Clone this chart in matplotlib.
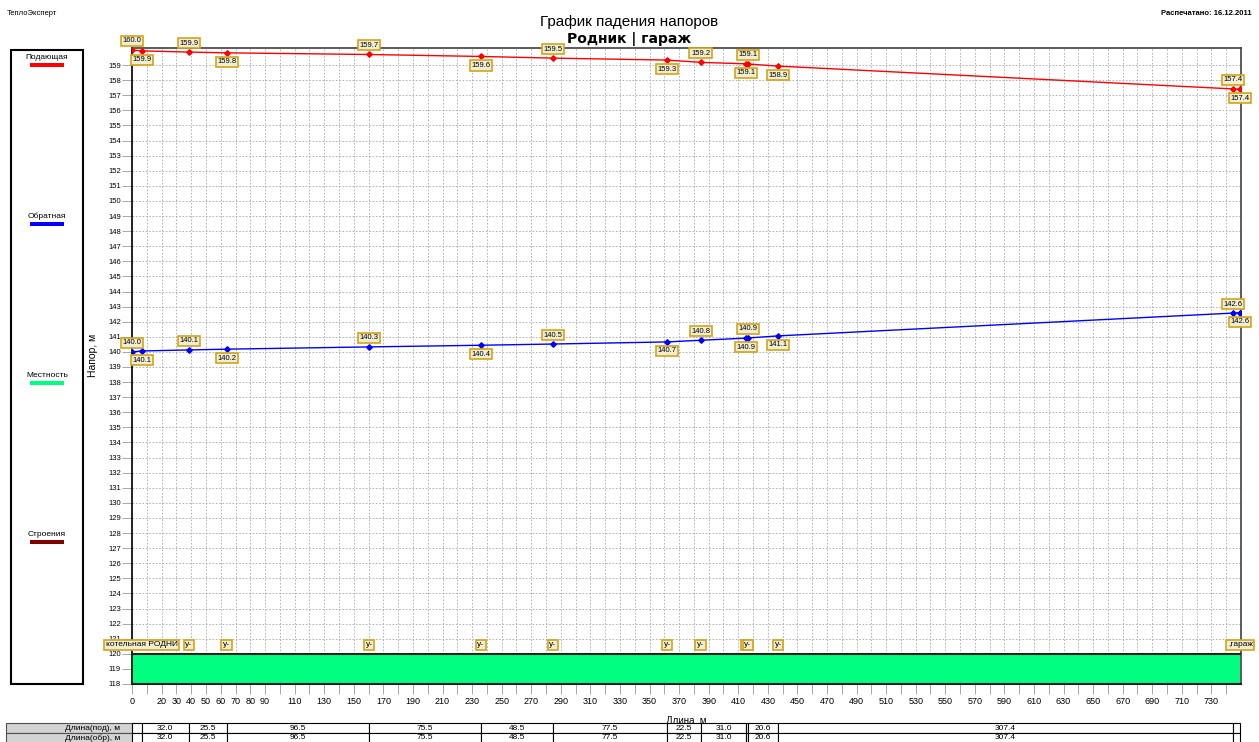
import numpy as np
import matplotlib
matplotlib.use('Agg')
import matplotlib.pyplot as plt
import matplotlib.transforms as mtransforms
from matplotlib.patches import Rectangle

plt.rcParams['font.family'] = ['Liberation Sans', 'DejaVu Sans']

W, H = 1259, 742

# длины участков, м (короткие вставки без подписи в таблице)
SEG_LEN = [6.5, 32.0, 25.5, 96.5, 75.5, 48.5, 77.5, 22.5, 31.0, 1.0, 20.6, 307.4, 5.0]
# напоры в узлах, м
SUPPLY = [160.00, 159.94, 159.86, 159.81, 159.70, 159.57, 159.46,
          159.33, 159.18, 159.08, 159.07, 158.93, 157.42, 157.40]
RETURN = [140.00, 140.06, 140.13, 140.18, 140.33, 140.44, 140.52,
          140.66, 140.77, 140.91, 140.92, 141.06, 142.57, 142.60]
GROUND = [120.0, 120.0, 120.0, 120.0, 120.0, 120.0, 120.0,
          120.0, 120.0, 120.0, 120.0, 120.0, 120.0, 120.0]
NODE_NAMES = ['', 'котельная РОДНИ', 'у-', 'у-', 'у-', 'у-', 'у-',
              'у-', 'у-', 'у-', 'у-', 'у-', '', ',гараж']

XTICK_LABELED = [0, 20, 30, 40, 50, 60, 70, 80, 90] + list(range(110, 731, 20))
TABLE_ROWS = ['Длина(под), м', 'Длина(обр), м']

LEGEND_NAMES = ['Подающая', 'Обратная', 'Местность', 'Строения']
LEGEND_COLORS = ['#ff0000', '#0000ff', '#00ff80', '#800000']

BOX = dict(boxstyle='square,pad=0.2', fc='#f0eed2', ec='#d4a418', lw=1.2)


def fx(px):
    return px / W


def fy(py):
    return 1 - py / H


x_nodes = np.concatenate([[0.0], np.cumsum(SEG_LEN)])

fig = plt.figure(figsize=(W / 100, H / 100), dpi=100)

ax = fig.add_axes([fx(132), fy(684), fx(1241) - fx(132), fy(48) - fy(684)])
ax.set_xlim(0, 750)
ax.set_ylim(118, 160.13)

xt = np.arange(0, 741, 10)
ax.set_xticks(xt)
ax.set_xticklabels([str(t) if t in XTICK_LABELED else '' for t in xt])
ax.set_yticks(np.arange(118, 160))
ax.tick_params(axis='x', length=7, width=0.6, color='#9a9a9a', labelsize=6.5, pad=2)
ax.tick_params(axis='y', length=7.5, width=0.6, color='#9a9a9a', labelsize=5.5, pad=0.5)
ax.grid(True, color='#a8a8a8', lw=0.6, ls=(0, (2, 2)))
ax.set_axisbelow(True)

ax.spines['left'].set_color('black')
ax.spines['left'].set_linewidth(1.2)
for s in ('top', 'right'):
    ax.spines[s].set_color('#404040')
    ax.spines[s].set_linewidth(1.2)
ax.spines['bottom'].set_color('#202020')
ax.spines['bottom'].set_linewidth(1.5)

# местность
ax.fill_between(x_nodes, 118, GROUND, color='#00ff80', zorder=2, lw=0)
ax.plot(x_nodes, GROUND, color='#202020', lw=1.5, zorder=3)

# линии напоров
for vals, col in ((SUPPLY, '#ff0000'), (RETURN, '#0000ff')):
    ax.plot(x_nodes, vals, color=col, lw=1, marker='D', ms=2.8, zorder=4)
    for i, (x, v) in enumerate(zip(x_nodes, vals)):
        dy = 6.5 if i % 2 == 0 else -6.5
        ax.annotate(f'{v:.1f}', (x, v), xytext=(0, dy), textcoords='offset points',
                    ha='center', va='center', fontsize=5.5, bbox=BOX,
                    annotation_clip=False, zorder=6)

# подписи узлов
for x, name in zip(x_nodes, NODE_NAMES):
    if name:
        ax.text(x, 120.6, name, ha='center', va='center', fontsize=6,
                bbox=BOX, clip_on=False, zorder=6)

ax.set_xlabel('Длина, м', fontsize=7)
ax.xaxis.set_label_coords(0.5, -0.05)
ax.set_ylabel('Напор, м', fontsize=7.5)
ax.yaxis.set_label_coords(-0.031, 0.516)

# таблица длин
tab = fig.add_axes([fx(132), fy(742.7), fx(1241) - fx(132), fy(723.3) - fy(742.7)])
tab.set_xlim(0, 750)
tab.set_ylim(0, 2)
tab.axis('off')
blend = mtransforms.blended_transform_factory(tab.transAxes, tab.transData)
lab_left = (6 - 132) / (1241 - 132)
for r, row_name in enumerate(TABLE_ROWS):
    y0 = 1 - r
    tab.add_patch(Rectangle((lab_left, y0), -lab_left, 1, transform=blend,
                            fc='#d3d3d3', ec='#505050', lw=0.8, clip_on=False))
    tab.text(-0.0108, y0 + 0.5, row_name, transform=blend, ha='right', va='center',
             fontsize=6)
    for x0, ln in zip(x_nodes[:-1], SEG_LEN):
        tab.add_patch(Rectangle((x0, y0), ln, 1, fc='white', ec='black', lw=0.8,
                                clip_on=False))
        if ln >= 10:
            tab.text(x0 + ln / 2, y0 + 0.5, f'{ln:.1f}', ha='center', va='center',
                     fontsize=6)

# легенда слева
fig.add_artist(Rectangle((fx(11), fy(684)), fx(83) - fx(11), fy(50) - fy(684),
                         transform=fig.transFigure, fill=False, ec='black', lw=1.5))
for i, (name, col) in enumerate(zip(LEGEND_NAMES, LEGEND_COLORS)):
    yt = 57.7 + i * 158.8
    fig.text(fx(47), fy(yt), name, ha='center', va='center', fontsize=6)
    fig.add_artist(Rectangle((fx(30), fy(yt + 9.5)), fx(64) - fx(30), fy(yt + 5.5) - fy(yt + 9.5),
                             transform=fig.transFigure, fc=col, ec='none'))

# заголовки
fig.text(fx(7), fy(15), 'ТеплоЭксперт', fontsize=5.5, va='baseline')
fig.text(fx(1252), fy(15), 'Распечатано: 16.12.2011', fontsize=5.5, weight='bold',
         ha='right', va='baseline')
fig.text(0.5, fy(26), 'График падения напоров', fontsize=11, ha='center', va='baseline')
fig.text(0.5, fy(43), 'Родник | гараж', fontsize=10, weight='bold', ha='center',
         va='baseline', family=['DejaVu Sans'])

fig.savefig('out.png', dpi=100)
